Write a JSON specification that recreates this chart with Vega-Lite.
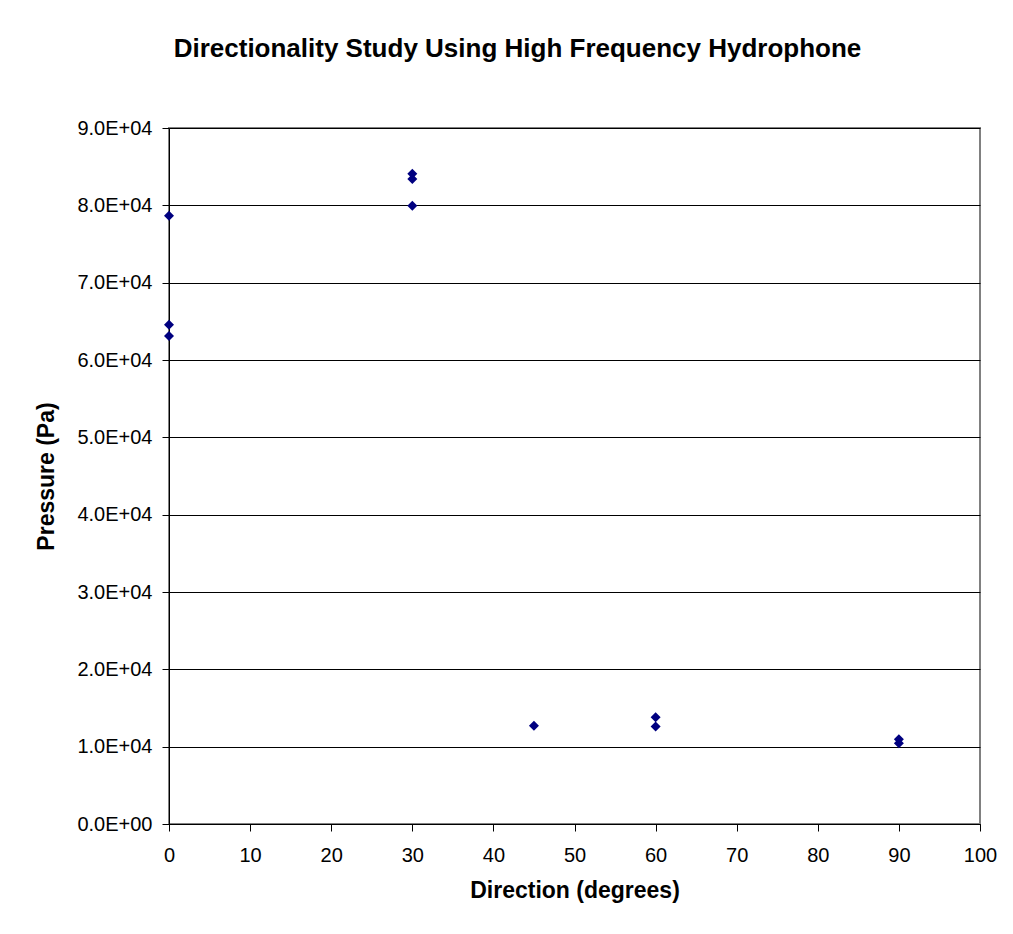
{
  "$schema": "https://vega.github.io/schema/vega-lite/v6.json",
  "width": 811,
  "height": 696,
  "autosize": {"type": "none"},
  "padding": {"left": 169, "top": 128, "right": 33, "bottom": 110},
  "background": "white",
  "title": {
    "text": "Directionality Study Using High Frequency Hydrophone",
    "font": "Liberation Sans",
    "fontSize": 26,
    "fontWeight": "bold",
    "color": "black",
    "anchor": "middle",
    "baseline": "alphabetic",
    "dx": -57,
    "offset": 35
  },
  "config": {
    "view": {"stroke": "#808080", "strokeWidth": 2},
    "axis": {
      "labelFont": "Liberation Sans",
      "labelFontSize": 20,
      "labelColor": "black",
      "titleFont": "Liberation Sans",
      "titleFontSize": 23,
      "titleFontWeight": "bold",
      "titleColor": "black",
      "domainColor": "black",
      "tickColor": "black",
      "tickSize": 7,
      "gridColor": "black",
      "gridOpacity": 1
    }
  },
  "data": {
    "values": [
      {"direction": 0, "pressure": 78650},
      {"direction": 0, "pressure": 64550},
      {"direction": 0, "pressure": 63100},
      {"direction": 30, "pressure": 84100},
      {"direction": 30, "pressure": 83400},
      {"direction": 30, "pressure": 79950},
      {"direction": 45, "pressure": 12700},
      {"direction": 60, "pressure": 13800},
      {"direction": 60, "pressure": 12600},
      {"direction": 90, "pressure": 10950},
      {"direction": 90, "pressure": 10450}
    ]
  },
  "mark": {"type": "point", "shape": "diamond", "filled": true, "color": "#000080", "opacity": 1, "size": 100},
  "encoding": {
    "x": {
      "field": "direction",
      "type": "quantitative",
      "scale": {"domain": [0, 100], "nice": false, "zero": true},
      "axis": {
        "values": [0, 10, 20, 30, 40, 50, 60, 70, 80, 90, 100],
        "grid": false,
        "labelFlush": false,
        "title": "Direction (degrees)",
        "labelPadding": 14,
        "titlePadding": 14
      }
    },
    "y": {
      "field": "pressure",
      "type": "quantitative",
      "scale": {"domain": [0, 90000], "nice": false},
      "axis": {
        "values": [0, 10000, 20000, 30000, 40000, 50000, 60000, 70000, 80000, 90000],
        "grid": true,
        "labelFlush": false,
        "title": "Pressure (Pa)",
        "labelExpr": "datum.value == 0 ? '0.0E+00' : format(datum.value / 10000, '.1f') + 'E+04'",
        "labelPadding": 10,
        "titleX": -123,
        "titleY": 348,
        "titleAlign": "center",
        "titleAngle": -90,
        "titleBaseline": "middle"
      }
    }
  }
}
